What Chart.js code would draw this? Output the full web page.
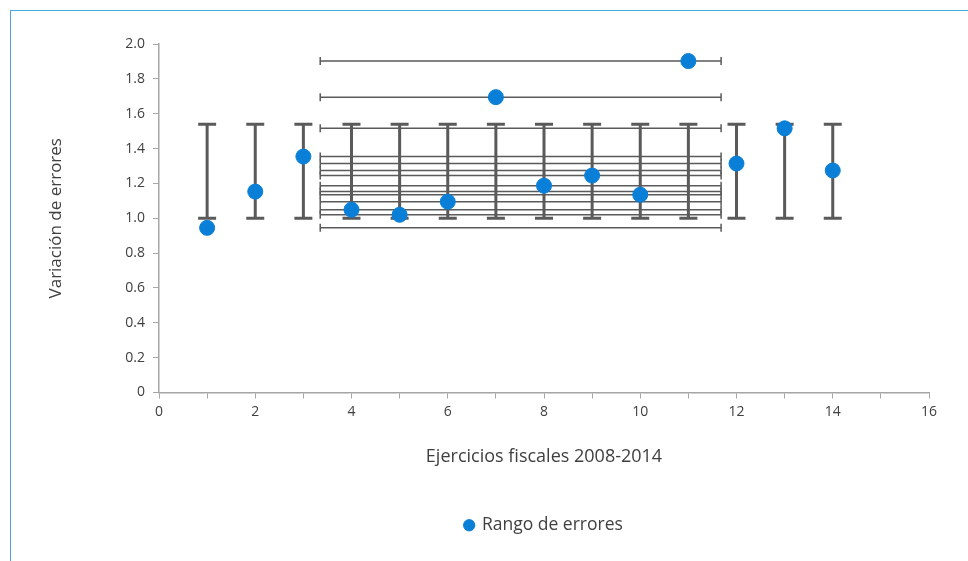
<!DOCTYPE html>
<html>
<head>
<meta charset="utf-8">
<script src="https://cdn.jsdelivr.net/npm/chart.js@4.4.1/dist/chart.umd.min.js"></script>
<style>
  html, body { margin: 0; padding: 0; background: #fff; }
  #wrap { position: relative; width: 968px; height: 561px; }
  #frame { position: absolute; left: 10px; top: 10px; right: -5px; bottom: -5px;
           border-left: 1px solid #45a8e6; border-top: 1px solid #45a8e6; pointer-events: none; }
</style>
</head>
<body>
<div id="wrap">
  <canvas id="chart" width="968" height="561"></canvas>
  <div id="frame"></div>
</div>
<script>
// ejercicios y variación
const ejercicios = [1, 2, 3, 4, 5, 6, 7, 8, 9, 10, 11, 12, 13, 14];
const variacion = [0.945, 1.153, 1.354, 1.049, 1.020, 1.095, 1.695, 1.187, 1.245, 1.135, 1.902, 1.314, 1.516, 1.274];
// rangos de error (fijos para cada punto)
const errYMin = [1.0, 1.0, 1.0, 1.0, 1.0, 1.0, 1.0, 1.0, 1.0, 1.0, 1.0, 1.0, 1.0, 1.0];
const errYMax = [1.54, 1.54, 1.54, 1.54, 1.54, 1.54, 1.54, 1.54, 1.54, 1.54, 1.54, 1.54, 1.54, 1.54];
const errXMin = [3.35, 3.35, 3.35, 3.35, 3.35, 3.35, 3.35, 3.35, 3.35, 3.35, 3.35, 3.35, 3.35, 3.35];
const errXMax = [11.68, 11.68, 11.68, 11.68, 11.68, 11.68, 11.68, 11.68, 11.68, 11.68, 11.68, 11.68, 11.68, 11.68];

const puntos = ejercicios.map((x, i) => ({ x: x, y: variacion[i] }));

const gris = '#5a5a5a';
const ejeColor = '#a6a6a6';
const texto = '#404040';

const barrasError = {
  id: 'barrasError',
  beforeDatasetsDraw(chart) {
    const ctx = chart.ctx;
    const xs = chart.scales.x, ys = chart.scales.y;
    ctx.save();
    ctx.strokeStyle = gris;
    // horizontales
    ctx.lineWidth = 1.5;
    for (let i = 0; i < ejercicios.length; i++) {
      const py = ys.getPixelForValue(variacion[i]);
      const x1 = xs.getPixelForValue(errXMin[i]);
      const x2 = xs.getPixelForValue(errXMax[i]);
      ctx.beginPath();
      ctx.moveTo(x1, py); ctx.lineTo(x2, py);
      ctx.moveTo(x1, py - 4); ctx.lineTo(x1, py + 4);
      ctx.moveTo(x2, py - 4); ctx.lineTo(x2, py + 4);
      ctx.stroke();
    }
    // verticales
    ctx.lineWidth = 3;
    for (let i = 0; i < ejercicios.length; i++) {
      const px = xs.getPixelForValue(ejercicios[i]);
      const y1 = ys.getPixelForValue(errYMin[i]);
      const y2 = ys.getPixelForValue(errYMax[i]);
      ctx.beginPath();
      ctx.moveTo(px, y1); ctx.lineTo(px, y2);
      ctx.moveTo(px - 9, y1); ctx.lineTo(px + 9, y1);
      ctx.moveTo(px - 9, y2); ctx.lineTo(px + 9, y2);
      ctx.stroke();
    }
    ctx.restore();
  }
};

Chart.defaults.font.family = '"Open Sans", "Noto Sans", sans-serif';
Chart.defaults.color = texto;

new Chart(document.getElementById('chart'), {
  type: 'scatter',
  data: {
    datasets: [{
      label: 'Rango de errores',
      data: puntos,
      backgroundColor: '#0a7fd7',
      borderColor: '#0a7fd7',
      pointRadius: 7.5,
      pointHoverRadius: 7.5,
      pointStyle: 'circle'
    }]
  },
  options: {
    responsive: false,
    animation: false,
    layout: { padding: { left: 10, top: 44, right: 39, bottom: 17 } },
    plugins: {
      tooltip: { enabled: false },
      legend: {
        position: 'bottom',
        fullSize: false,
        labels: { usePointStyle: true, boxWidth: 8, boxHeight: 8, padding: 10,
                  font: { size: 17.5 }, color: texto }
      }
    },
    scales: {
      x: {
        type: 'linear', min: 0, max: 16,
        afterFit(scale) { scale.height = 114; },
        ticks: { stepSize: 1, autoSkip: false, maxRotation: 0, padding: 5, font: { size: 14 },
                 callback: v => (v % 2 === 0 ? String(v) : '') },
        grid: { display: true, drawOnChartArea: false, drawTicks: true, tickLength: 6, color: ejeColor },
        border: { display: true, color: ejeColor, width: 1.5 },
        title: { display: true, text: 'Ejercicios fiscales 2008-2014', font: { size: 18 },
                 padding: { top: 0, bottom: 39 }, color: texto }
      },
      y: {
        type: 'linear', min: 0, max: 2,
        afterFit(scale) { scale.width = 149; },
        ticks: { stepSize: 0.2, padding: 8, font: { size: 14 },
                 callback: v => (Math.abs(v) < 1e-9 ? '0' : v.toFixed(1)) },
        grid: { display: true, drawOnChartArea: false, drawTicks: true, tickLength: 6, color: ejeColor },
        border: { display: true, color: ejeColor, width: 1.5 },
        title: { display: true, text: 'Variación de errores', font: { size: 17 },
                 padding: { top: 36, bottom: 0 }, color: texto }
      }
    }
  },
  plugins: [barrasError]
});
</script>
</body>
</html>
